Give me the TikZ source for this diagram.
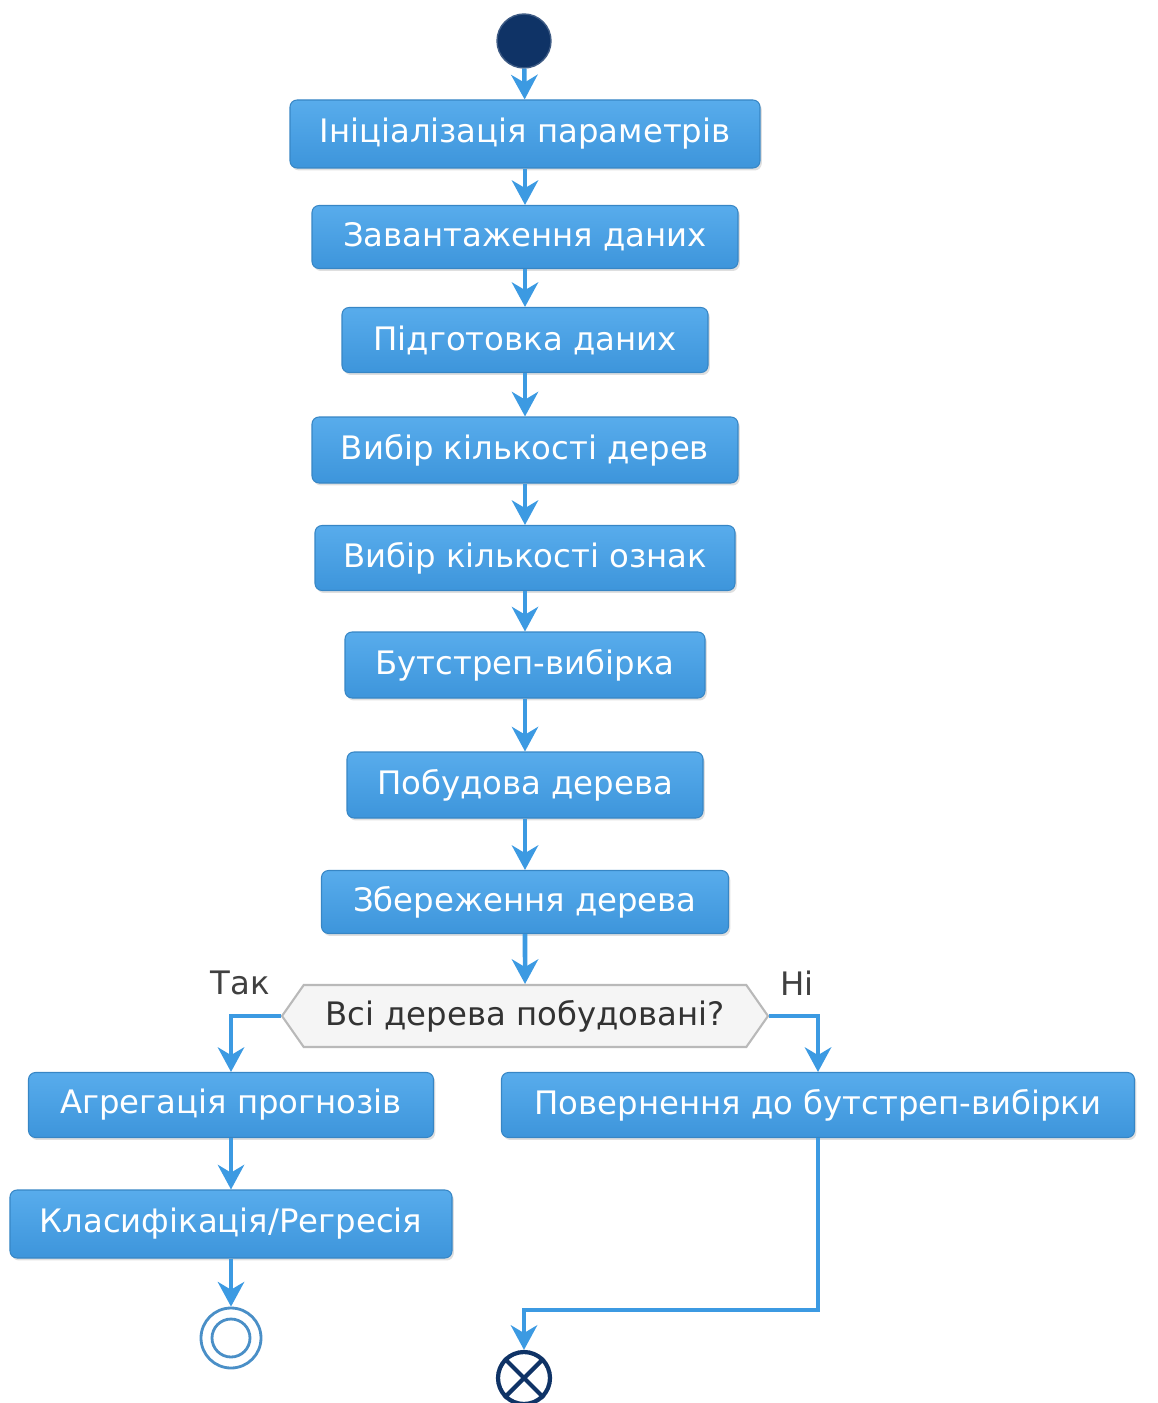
\documentclass[tikz,border=0pt]{standalone}
\usepackage{fontspec}
\setmainfont{DejaVu Sans}
\usetikzlibrary{arrows.meta}
\usetikzlibrary{shapes.symbols}
\usetikzlibrary{shadows}

\definecolor{boxtop}{HTML}{58ACEC}
\definecolor{boxbot}{HTML}{3D95DB}
\definecolor{linecol}{HTML}{3C9AE2}
\definecolor{navy}{HTML}{0F3366}
\definecolor{endcol}{HTML}{4A8FC7}

\tikzset{
  act/.style={rectangle, rounded corners=2pt, top color=boxtop, bottom color=boxbot,
    draw=boxbot!90!black, line width=0.3pt, text=white, font=\fontsize{9.2}{11}\selectfont,
    inner xsep=2pt, drop shadow={shadow xshift=0.5pt, shadow yshift=-0.7pt, opacity=0.25}},
  flow/.style={draw=linecol, line width=1.3pt, -{Stealth[length=7pt, width=7.5pt, inset=2.2pt]}},
  choice/.style={signal, signal to=west and east, signal pointer angle=110,
    fill=gray!8, draw=gray!55, line width=0.6pt, text=black!80,
    font=\fontsize{9.2}{11}\selectfont, inner xsep=2pt},
  lbl/.style={text=black!75, font=\fontsize{9.2}{11}\selectfont}
}

\begin{document}
\begin{tikzpicture}
\useasboundingbox (0,0) rectangle (11.58,-14.03);

\node[circle, fill=navy, draw=navy!80, minimum size=0.54cm, inner sep=0pt] (Start) at (5.24,-0.41) {};

\node[act, minimum width=4.70cm, minimum height=0.68cm] (Init) at (5.25,-1.34) {Ініціалізація параметрів};
\node[act, minimum width=4.26cm, minimum height=0.63cm] (Load) at (5.25,-2.37) {Завантаження даних};
\node[act, minimum width=3.66cm, minimum height=0.65cm] (Prep) at (5.25,-3.40) {Підготовка даних};
\node[act, minimum width=4.26cm, minimum height=0.66cm] (Trees) at (5.25,-4.50) {Вибір кількості дерев};
\node[act, minimum width=4.20cm, minimum height=0.65cm] (Feats) at (5.25,-5.58) {Вибір кількості ознак};
\node[act, minimum width=3.60cm, minimum height=0.66cm] (Boot) at (5.25,-6.65) {Бутстреп-вибірка};
\node[act, minimum width=3.56cm, minimum height=0.66cm] (Build) at (5.25,-7.85) {Побудова дерева};
\node[act, minimum width=4.07cm, minimum height=0.63cm] (Save) at (5.25,-9.02) {Збереження дерева};

\node[choice, minimum width=4.86cm, minimum height=0.62cm] (Check) at (5.25,-10.16) {Всі дерева побудовані?};
\node[lbl] (Yes) at (2.40,-9.83) {Так};
\node[lbl] (No) at (7.97,-9.83) {Ні};

\node[act, minimum width=4.05cm, minimum height=0.65cm] (Aggr) at (2.31,-11.05) {Агрегація прогнозів};
\node[act, minimum width=6.33cm, minimum height=0.65cm] (Back) at (8.18,-11.05) {Повернення до бутстреп-вибірки};
\node[act, minimum width=4.42cm, minimum height=0.68cm] (Class) at (2.31,-12.24) {Класифікація/Регресія};

\node[circle, draw=endcol, line width=0.8pt, fill=white, minimum size=0.60cm, inner sep=0pt] (End) at (2.31,-13.38) {};
\node[circle, draw=endcol, line width=0.8pt, minimum size=0.38cm, inner sep=0pt] (EndIn) at (End) {};

\node[circle, draw=navy, line width=1.2pt, fill=white, minimum size=0.52cm, inner sep=0pt] (Stop) at (5.24,-13.78) {};
\draw[navy, line width=1.2pt] (Stop.north west) -- (Stop.south east);
\draw[navy, line width=1.2pt] (Stop.north east) -- (Stop.south west);

\coordinate (Turn) at (8.18,-13.10);

\draw[flow] (Start) -- (Init);
\draw[flow] (Init) -- (Load);
\draw[flow] (Load) -- (Prep);
\draw[flow] (Prep) -- (Trees);
\draw[flow] (Trees) -- (Feats);
\draw[flow] (Feats) -- (Boot);
\draw[flow] (Boot) -- (Build);
\draw[flow] (Build) -- (Save);
\draw[flow] (Save) -- (Check);
\draw[flow] (Check.west) -| (Aggr.north);
\draw[flow] (Check.east) -| (Back.north);
\draw[flow] (Aggr) -- (Class);
\draw[flow] (Class) -- (End);
\draw[flow] (Back.south) -- (Turn) -| (Stop.north);

\end{tikzpicture}
\end{document}
